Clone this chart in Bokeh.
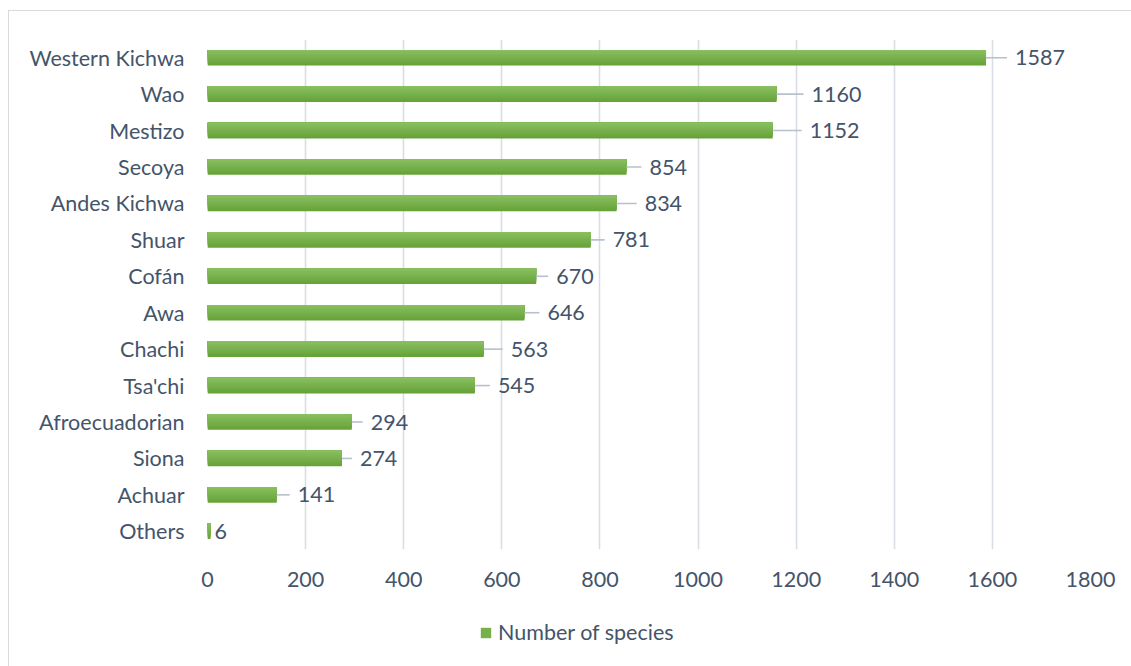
from bokeh.plotting import figure
from bokeh.layouts import column
from bokeh.models import Range1d, FactorRange, FixedTicker, Legend, LegendItem, ColumnDataSource
from bokeh.transform import dodge
from bokeh.core.properties import value
from bokeh.embed import file_html
from bokeh.resources import INLINE

groups = ["Western Kichwa", "Wao", "Mestizo", "Secoya", "Andes Kichwa", "Shuar", "Cofán",
          "Awa", "Chachi", "Tsa'chi", "Afroecuadorian", "Siona", "Achuar", "Others"]
species = [1587, 1160, 1152, 854, 834, 781, 670, 646, 563, 545, 294, 274, 141, 6]
x_ticks = [0, 200, 400, 600, 800, 1000, 1200, 1400, 1600, 1800]
series_name = "Number of species"

# style: pixel gap between bar end and label start (Excel's manually placed labels)
label_gap_px = [29, 35, 37, 23, 28, 22, 20, 23, 27, 23, 19, 18, 21, 4]

FONT = "Lato"
FS = "21.5px"
TXT = "#44546a"
BORDER = "1px solid #d9d9d9"
ORX, ORY = 9, 11           # canvas origin inside window (after margin+border)
FRAME_L, FRAME_T, FRAME_W, FRAME_H = 207, 39, 882, 509
BOTTOM = 50
XMAX = 1800
px2data = XMAX / FRAME_W

p = figure(output_backend="svg", toolbar_location=None,
           x_range=Range1d(0, XMAX), y_range=FactorRange(factors=list(reversed(groups))),
           min_border_left=FRAME_L - ORX, min_border_top=FRAME_T - ORY,
           frame_width=FRAME_W, frame_height=FRAME_H,
           min_border_right=1131 - FRAME_L - FRAME_W,
           min_border_bottom=BOTTOM)
p.margin = (ORY - 1, 0, 0, ORX - 1)
p.styles = {"border-left": BORDER, "border-top": BORDER}
p.outline_line_color = None
p.background_fill_color = "white"

src = ColumnDataSource(dict(cat=groups, val=species, lab=[str(v) for v in species]))

# gradient bars: nested layers anchored at the bar top
bar_h = 0.43
n = 12
top = (0x88, 0xbf, 0x60)
bot = (0x67, 0xa2, 0x38)
for i in range(n):
    t = 1 - i / (n - 1)
    c = tuple(int(round(top[k] * (1 - t) + bot[k] * t)) for k in range(3))
    col = "#%02x%02x%02x" % c
    hi = bar_h * (n - i) / n
    off = bar_h / 2 - hi / 2
    p.hbar(y=dodge("cat", off, range=p.y_range), left=0, right="val", height=hi,
           source=src, fill_color=col, line_color=None)

# leader lines
lead_idx = [i for i, g in enumerate(label_gap_px) if g > 12]
lsrc = ColumnDataSource(dict(
    cat=[groups[i] for i in lead_idx],
    x0=[species[i] for i in lead_idx],
    x1=[species[i] + (label_gap_px[i] - 8) * px2data for i in lead_idx],
))
p.segment(x0="x0", y0="cat", x1="x1", y1="cat", source=lsrc, line_color="#b7c0cc", line_width=1.6)

# data labels
src.data["lab_x"] = [v + g * px2data for v, g in zip(species, label_gap_px)]
p.text(x="lab_x", y="cat", text="lab", source=src, text_font=value(FONT),
       text_font_size=FS, text_color=TXT, text_baseline="middle", text_align="left")

# axes
p.xaxis.ticker = FixedTicker(ticks=x_ticks)
for ax in (p.xaxis[0], p.yaxis[0]):
    ax.axis_line_color = None
    ax.major_tick_line_color = None
    ax.minor_tick_line_color = None
    ax.major_tick_out = 0
    ax.major_tick_in = 0
    ax.major_label_text_font = FONT
    ax.major_label_text_font_size = FS
    ax.major_label_text_color = TXT
p.xaxis.major_label_standoff = 22
p.yaxis.major_label_standoff = 23
p.xgrid.grid_line_color = "#d9dde4"
p.xgrid.grid_line_width = 1.6
p.ygrid.grid_line_color = None

# legend strip below the chart (its frame is aligned with the main frame by the column)
top_h = ORY + (FRAME_T - ORY) + FRAME_H + BOTTOM
leg_h = 666 - top_h
lf = figure(output_backend="svg", toolbar_location=None, width=1131 - ORX, height=leg_h,
            x_range=Range1d(0, 1), y_range=Range1d(0, 1),
            min_border=0, min_border_left=0, min_border_right=0, min_border_top=0, min_border_bottom=0)
lf.margin = (0, 0, 0, ORX - 1)
lf.styles = {"border-left": BORDER}
lf.axis.visible = False
lf.grid.visible = False
lf.outline_line_color = None
dummy = lf.hbar(y=[50], left=[50], right=[51], height=0.5, fill_color="#77b04a", line_color=None)
legend = Legend(items=[LegendItem(label=series_name, renderers=[dummy])],
                location=(479 - FRAME_L, 666 - 633 - 12), orientation="horizontal",
                label_text_font=FONT, label_text_font_size=FS, label_text_color=TXT,
                glyph_width=13, glyph_height=13, label_standoff=6, padding=0, margin=0,
                border_line_color=None, background_fill_alpha=0)
lf.add_layout(legend, "center")

layout = column(p, lf, spacing=0)
open("out.html", "w").write(file_html(layout, INLINE))
